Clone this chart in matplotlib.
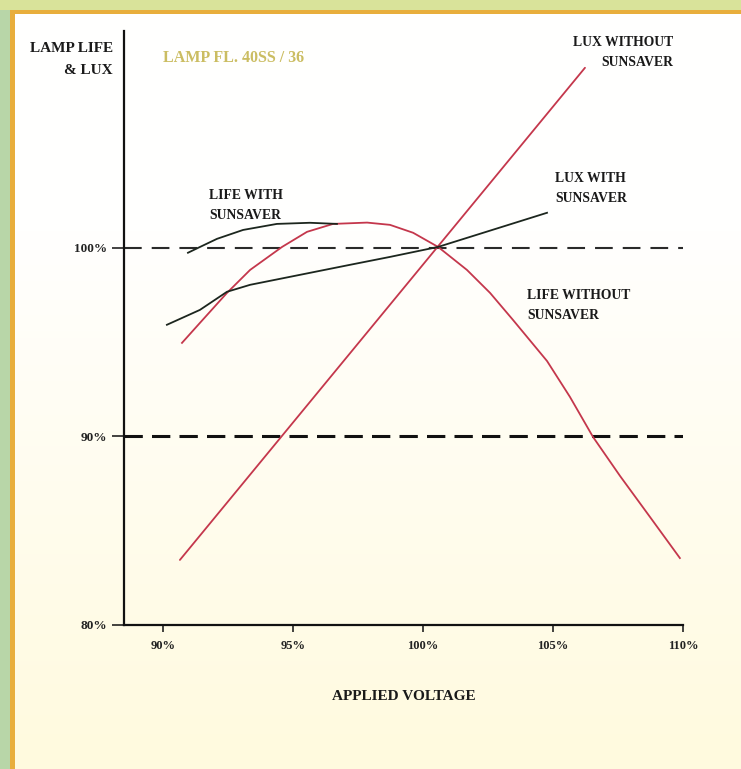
import numpy as np
import matplotlib
matplotlib.use("Agg")
import matplotlib.pyplot as plt

# ---------------------------------------------------------------------------
# Values (x = applied voltage %, y = life / lux %)
# ---------------------------------------------------------------------------
LUX_WITHOUT_X = [90.65, 106.23]
LUX_WITHOUT_Y = [83.45, 109.55]

LIFE_WITHOUT_X = [90.73, 91.42, 92.46, 93.35, 94.58, 95.54, 96.54, 97.85, 98.73,
                  99.62, 100.58, 101.69, 102.58, 103.46, 104.77, 105.65,
                  106.54, 107.58, 108.73, 109.88]
LIFE_WITHOUT_Y = [94.96, 96.02, 97.61, 98.83, 100.05, 100.85, 101.27, 101.34, 101.22,
                  100.80, 100.05, 98.83, 97.61, 96.18, 94.00, 92.10,
                  89.97, 87.90, 85.73, 83.55]

LUX_WITH_X = [90.15, 91.42, 92.46, 93.35, 95.27, 97.19, 98.73, 100.58, 104.77]
LUX_WITH_Y = [95.92, 96.71, 97.67, 98.04, 98.57, 99.10, 99.52, 100.05, 101.86]

LIFE_WITH_X = [90.96, 91.35, 92.08, 93.08, 94.38, 95.65, 96.69]
LIFE_WITH_Y = [99.74, 100.00, 100.48, 100.95, 101.27, 101.33, 101.27]

REF_LEVELS = [100, 90]
X_TICKS = [90, 95, 100, 105, 110]
X_TICK_LABELS = ["90%", "95%", "100%", "105%", "110%"]
Y_TICKS = [80, 90, 100]
Y_TICK_LABELS = ["80%", "90%", "100%"]

RED = "#c4374c"
DARK = "#1c261e"
SERIF = ["Liberation Serif", "DejaVu Serif"]

fig = plt.figure(figsize=(7.41, 7.69), dpi=100)

# --- page background: green strip, orange rule, white-to-cream panel -------
bg = fig.add_axes([0, 0, 1, 1], zorder=-10)
bg.set_axis_off()
rows = np.linspace(0, 1, 200)[:, None]
top = np.array([255, 255, 254]) / 255
bot = np.array([255, 250, 222]) / 255
grad = top + (bot - top) * np.clip((rows - 0.3) / 0.7, 0, 1)[..., None]
grad = np.repeat(grad, 2, axis=1)
bg.imshow(grad, extent=[0, 1, 0, 1], aspect="auto", origin="upper")
W, H = 741, 769
bg.add_patch(plt.Rectangle((0, 0), 10 / W, 1, color="#b8d6a8", lw=0))
bg.add_patch(plt.Rectangle((0, 1 - 10 / H), 1, 10 / H, color="#d9e39a", lw=0))
bg.add_patch(plt.Rectangle((10 / W, 0), 5 / W, 1 - 10 / H, color="#e8ae3c", lw=0))
bg.add_patch(plt.Rectangle((10 / W, 1 - 14 / H), 1, 4 / H, color="#e8ae3c", lw=0))
bg.set_xlim(0, 1)
bg.set_ylim(0, 1)

# --- main chart -------------------------------------------------------------
ax = fig.add_axes([124 / W, 1 - 625 / H, (683 - 124) / W, (625 - 31) / H])
ax.patch.set_alpha(0)
ax.set_xlim(88.5, 110)
ax.set_ylim(80, 111.5)

for s in ("top", "right"):
    ax.spines[s].set_visible(False)
for s in ("left", "bottom"):
    ax.spines[s].set_linewidth(1.6)
    ax.spines[s].set_color("#111111")

ax.set_xticks(X_TICKS, X_TICK_LABELS, fontfamily=SERIF, fontweight="bold", fontsize=9)
ax.set_yticks(Y_TICKS, Y_TICK_LABELS, fontfamily=SERIF, fontweight="bold", fontsize=9.5)
ax.tick_params(axis="x", direction="out", length=5, width=1.2, pad=6, colors="#222222")
ax.tick_params(axis="y", direction="out", length=9, width=1.2, pad=3, colors="#222222")

# reference dashed levels
ax.hlines(REF_LEVELS[0], 88.5, 110, color="#2a2a2a", lw=1.5, linestyles=(0, (8.5, 4.8)))
ax.hlines(REF_LEVELS[1], 88.5, 110, color="#111111", lw=2.2, linestyles=(0, (6, 3)))

ax.plot(LUX_WITHOUT_X, LUX_WITHOUT_Y, color=RED, lw=1.3, solid_capstyle="round")
ax.plot(LIFE_WITHOUT_X, LIFE_WITHOUT_Y, color=RED, lw=1.3, solid_joinstyle="round")
ax.plot(LUX_WITH_X, LUX_WITH_Y, color=DARK, lw=1.3, solid_joinstyle="round")
ax.plot(LIFE_WITH_X, LIFE_WITH_Y, color=DARK, lw=1.3, solid_joinstyle="round")

lab = dict(fontfamily=SERIF, fontweight="bold", fontsize=9.8, color="#1a1a1a",
           linespacing=1.7, va="center")
ax.text(109.62, 110.34, "LUX WITHOUT\nSUNSAVER", ha="right", multialignment="right", **lab)
ax.text(105.08, 103.13, "LUX WITH\nSUNSAVER", ha="left", multialignment="left", **lab)
ax.text(104.0, 96.92, "LIFE WITHOUT\nSUNSAVER", ha="left", multialignment="left", **lab)
ax.text(91.77, 102.23, "LIFE WITH\nSUNSAVER", ha="left", multialignment="left", **lab)
ax.text(88.08, 109.97, "LAMP LIFE\n& LUX", ha="right", multialignment="right",
        clip_on=False, **dict(lab, fontsize=11, linespacing=1.9))
ax.text(90.0, 110.08, "LAMP FL. 40SS / 36", ha="left", va="center",
        fontfamily=SERIF, fontweight="bold", fontsize=11.5, color="#cbbd62")

ax.set_xlabel("APPLIED VOLTAGE", fontfamily=SERIF, fontweight="bold", fontsize=11,
              color="#1a1a1a", labelpad=27)

fig.savefig("out.png", dpi=100)
